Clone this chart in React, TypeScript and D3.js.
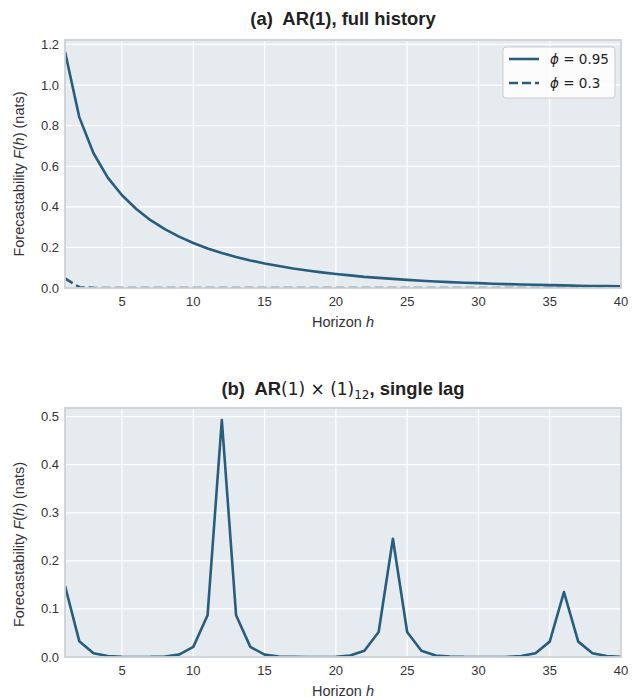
import React, { useEffect, useRef } from "react";
import * as d3 from "d3";

// horizons 1..40
const horizons = [
  1, 2, 3, 4, 5, 6, 7, 8, 9, 10, 11, 12, 13, 14, 15, 16, 17, 18, 19, 20,
  21, 22, 23, 24, 25, 26, 27, 28, 29, 30, 31, 32, 33, 34, 35, 36, 37, 38, 39, 40,
];

// panel (a): AR(1), full history
const fPhi095 = [
  1.164, 0.842, 0.664, 0.544, 0.457, 0.389, 0.334, 0.29, 0.253, 0.222,
  0.195, 0.173, 0.153, 0.136, 0.121, 0.108, 0.096, 0.086, 0.077, 0.069,
  0.062, 0.055, 0.05, 0.045, 0.04, 0.036, 0.032, 0.029, 0.026, 0.024,
  0.021, 0.019, 0.017, 0.016, 0.014, 0.013, 0.011, 0.01, 0.009, 0.008,
];
const fPhi03 = [
  0.047, 0.004, 0.0004, 0, 0, 0, 0, 0, 0, 0,
  0, 0, 0, 0, 0, 0, 0, 0, 0, 0,
  0, 0, 0, 0, 0, 0, 0, 0, 0, 0,
  0, 0, 0, 0, 0, 0, 0, 0, 0, 0,
];

// panel (b): AR(1) x (1)_12, single lag
const fSeasonal = [
  0.148, 0.033, 0.008, 0.002, 0.0005, 0.0001, 0.0002, 0.001, 0.005, 0.021,
  0.087, 0.493, 0.087, 0.021, 0.005, 0.001, 0.0003, 0.0001, 0.0001, 0.0004,
  0.003, 0.013, 0.052, 0.246, 0.052, 0.013, 0.003, 0.001, 0.0002, 0.0001,
  0.0001, 0.0002, 0.002, 0.008, 0.032, 0.135, 0.032, 0.008, 0.002, 0.0005,
];

const xTicks = [5, 10, 15, 20, 25, 30, 35, 40];
const yTicksA = [0, 0.2, 0.4, 0.6, 0.8, 1.0, 1.2];
const yTicksB = [0, 0.1, 0.2, 0.3, 0.4, 0.5];
const legendLabels = ["0.95", "0.3"];

const W = 641, H = 698;
const BG = "#e6ebf0";
const LINE = "#295d7d";
const SPINE = "#cdd2d6";
const TICKFONT = "'Liberation Sans', Arial, sans-serif";

function drawPanel(svg, opts) {
  const { top, bottom, left, right, yMax, yTicks, series, clipId, labelShift } = opts;
  const g = svg.append("g");
  const x = d3.scaleLinear().domain([1, 40]).range([left, right]);
  const y = d3.scaleLinear().domain([0, yMax]).range([bottom, top]);

  g.append("rect").attr("x", left).attr("y", top)
    .attr("width", right - left).attr("height", bottom - top).attr("fill", BG);

  g.selectAll(".vgrid").data(xTicks).join("line")
    .attr("x1", d => x(d)).attr("x2", d => x(d))
    .attr("y1", top).attr("y2", bottom)
    .attr("stroke", "#fff").attr("stroke-width", 1.2);
  g.selectAll(".hgrid").data(yTicks).join("line")
    .attr("y1", d => y(d)).attr("y2", d => y(d))
    .attr("x1", left).attr("x2", right)
    .attr("stroke", "#fff").attr("stroke-width", 1.2);

  g.append("clipPath").attr("id", clipId).append("rect")
    .attr("x", left).attr("y", top).attr("width", right - left).attr("height", bottom - top);

  const line = d3.line().x((d, i) => x(horizons[i])).y(d => y(d));
  series.forEach(s => {
    g.append("path").datum(s.values)
      .attr("d", line)
      .attr("fill", "none")
      .attr("stroke", LINE)
      .attr("stroke-width", 2.6)
      .attr("stroke-dasharray", s.dash || null)
      .attr("stroke-linejoin", "round")
      .attr("clip-path", `url(#${clipId})`);
  });

  g.append("rect").attr("x", left).attr("y", top)
    .attr("width", right - left).attr("height", bottom - top)
    .attr("fill", "none").attr("stroke", SPINE).attr("stroke-width", 1.8);

  g.selectAll(".xt").data(xTicks).join("text")
    .attr("x", d => x(d)).attr("y", bottom + 18)
    .attr("text-anchor", "middle")
    .attr("font-family", TICKFONT).attr("font-size", 13).attr("fill", "#333")
    .text(d => d);
  g.selectAll(".yt").data(yTicks).join("text")
    .attr("x", left - 6).attr("y", d => y(d) + 4.5)
    .attr("text-anchor", "end")
    .attr("font-family", TICKFONT).attr("font-size", 13).attr("fill", "#333")
    .text(d => d.toFixed(1));

  const xl = g.append("text").attr("x", (left + right) / 2).attr("y", bottom + 38.5)
    .attr("text-anchor", "middle").attr("font-family", TICKFONT)
    .attr("font-size", 14.5).attr("fill", "#333");
  xl.append("tspan").text("Horizon ");
  xl.append("tspan").attr("font-style", "italic").text("h");

  const cy = (top + bottom) / 2 + labelShift;
  const yl = g.append("text").attr("transform", `translate(24, ${cy}) rotate(-90)`)
    .attr("text-anchor", "middle").attr("font-family", TICKFONT)
    .attr("font-size", 14.5).attr("fill", "#333");
  yl.append("tspan").text("Forecastability ");
  yl.append("tspan").attr("font-style", "italic").text("F");
  yl.append("tspan").text("(");
  yl.append("tspan").attr("font-style", "italic").text("h");
  yl.append("tspan").text(") (nats)");

  return { x, y };
}

export default function App() {
  const ref = useRef(null);
  useEffect(() => {
    const svg = d3.select(ref.current);
    svg.selectAll("*").remove();
    const left = 65, right = 621;

    drawPanel(svg, {
      top: 40, bottom: 288, left, right, yMax: 1.222, yTicks: yTicksA, clipId: "clipA",
      labelShift: 10,
      series: [{ values: fPhi095 }, { values: fPhi03, dash: "9,4" }],
    });
    svg.append("text").attr("x", (left + right) / 2).attr("y", 25)
      .attr("text-anchor", "middle").attr("font-family", TICKFONT)
      .attr("font-weight", "bold").attr("font-size", 18.4).attr("fill", "#222")
      .style("white-space", "pre")
      .text("(a)  AR(1), full history");

    // legend
    const lg = svg.append("g");
    lg.append("rect").attr("x", 503).attr("y", 47).attr("width", 112).attr("height", 51)
      .attr("rx", 3).attr("fill", "#fff").attr("fill-opacity", 0.85)
      .attr("stroke", "#cccccc").attr("stroke-width", 1);
    legendLabels.forEach((lab, i) => {
      const yy = 59 + i * 24;
      lg.append("line").attr("x1", 509).attr("x2", 539).attr("y1", yy).attr("y2", yy)
        .attr("stroke", LINE).attr("stroke-width", 2.6)
        .attr("stroke-dasharray", i === 1 ? "9,4" : null);
      const t = lg.append("text").attr("x", 550).attr("y", yy + 5)
        .attr("font-family", "'DejaVu Sans', sans-serif").attr("font-size", 13.5).attr("fill", "#222");
      t.append("tspan").attr("font-style", "italic").text("ϕ");
      t.append("tspan").text(" = " + lab);
    });

    drawPanel(svg, {
      top: 408, bottom: 657, left, right, yMax: 0.518, yTicks: yTicksB, clipId: "clipB",
      labelShift: 12,
      series: [{ values: fSeasonal }],
    });
    const tb = svg.append("text").attr("x", (left + right) / 2).attr("y", 395)
      .attr("text-anchor", "middle").attr("font-family", TICKFONT)
      .attr("font-weight", "bold").attr("font-size", 18.4).attr("fill", "#222")
      .style("white-space", "pre");
    tb.append("tspan").text("(b)  AR");
    tb.append("tspan").attr("font-weight", "normal").attr("font-family", "'DejaVu Sans', sans-serif")
      .attr("font-size", 17).text("(1) × (1)");
    tb.append("tspan").attr("font-weight", "normal").attr("font-family", "'DejaVu Sans', sans-serif")
      .attr("font-size", 12).attr("dy", 4).text("12");
    tb.append("tspan").attr("dy", -4).text(", single lag");
  }, []);

  return (
    <div style={{ position: "absolute", left: 0, top: 0 }}>
      <svg ref={ref} width={W} height={H} style={{ display: "block", background: "#fff" }} />
    </div>
  );
}
